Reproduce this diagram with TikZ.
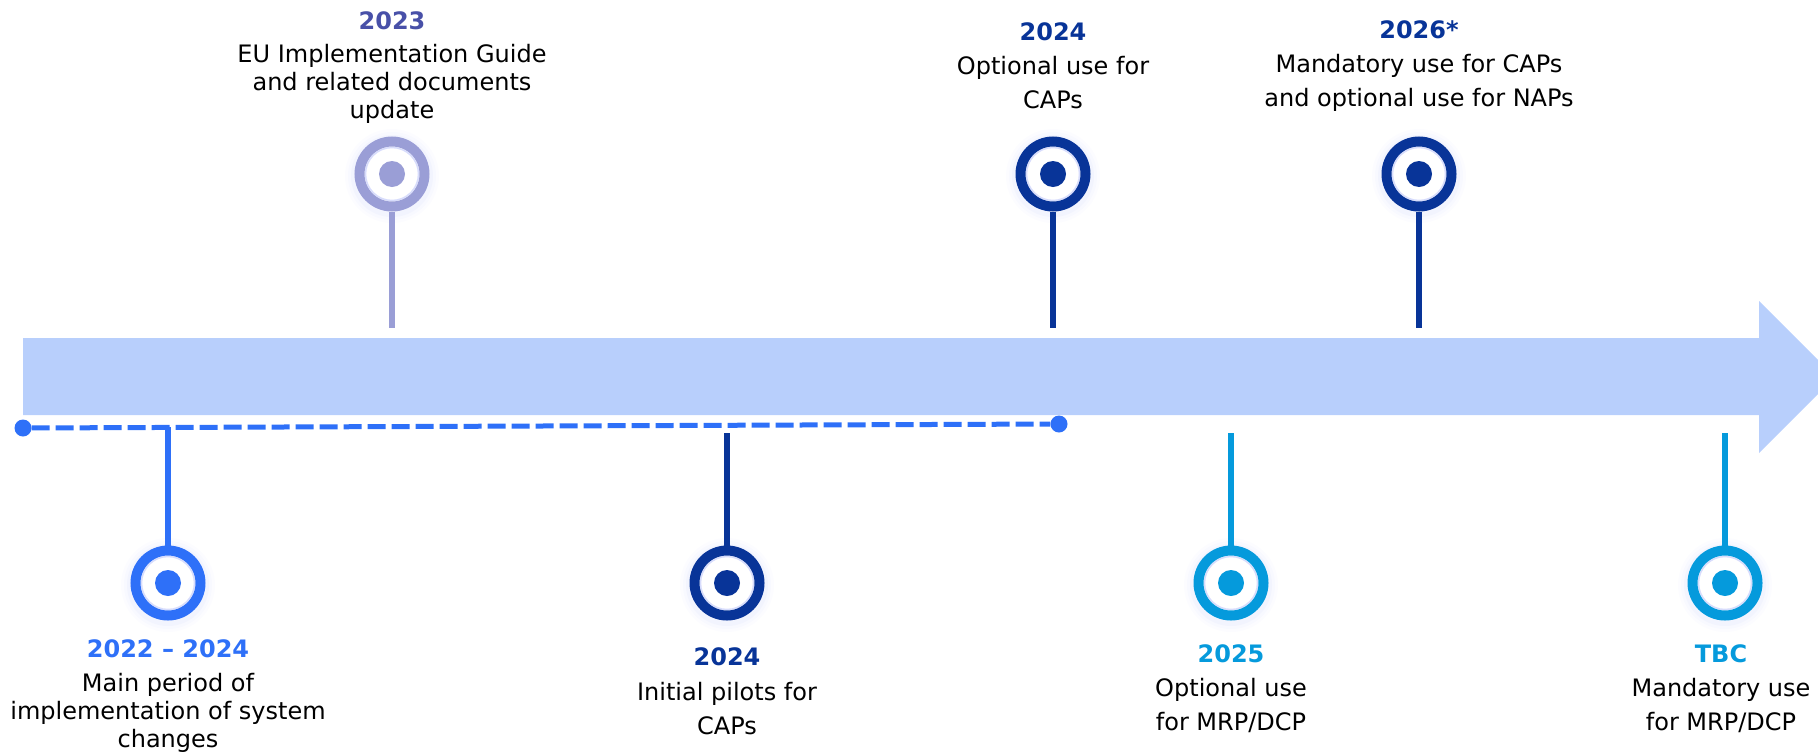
\documentclass[tikz,border=0pt]{standalone}
\usepackage{fontspec}
\setmainfont{DejaVu Sans}
\definecolor{cbright}{RGB}{46,112,248}
\definecolor{clav}{RGB}{154,158,214}
\definecolor{clavtext}{RGB}{72,80,168}
\definecolor{cnavy}{RGB}{8,52,152}
\definecolor{ccyan}{RGB}{5,154,220}
\definecolor{cbar}{RGB}{184,207,252}
\definecolor{cglow}{RGB}{176,186,250}
\newcommand\yr[2]{{\bfseries\color{#1}\rule{0pt}{24pt}#2}}
\newcommand\glowat[2]{\foreach \r/\o in {47/0.04,44/0.06,41/0.08}{\fill[cglow,opacity=\o] (#1,#2+2) circle (\r pt);}}
\begin{document}
\begin{tikzpicture}[x=1pt,y=-1pt,
  marker/.style={circle, draw=#1, fill=white, line width=10pt, minimum size=65pt, inner sep=0pt,
    path picture={\draw[cglow, line width=1.5pt, opacity=0.5] (path picture bounding box.center) circle (26.5pt);
                  \fill[#1] (path picture bounding box.center) circle (13pt);}},
  stem/.style={draw=#1, line width=6pt},
  enddot/.style={circle, fill=cbright, minimum size=17pt, inner sep=0pt},
  dashline/.style={draw=cbright, line width=5pt, dash pattern=on 18pt off 6pt},
  lbl/.style={anchor=north, align=center, inner sep=0pt, text=black},
  two/.style={lbl, font=\fontsize{24}{34}\selectfont},
  three/.style={lbl, font=\fontsize{24}{28}\selectfont}
]
\useasboundingbox (0,0) rectangle (1818,753);
\clip (0,0) rectangle (1818,753);
% timeline arrow
\fill[cbar] (23,338) -- (1759,338) -- (1759,301) -- (1835,377) -- (1759,453) -- (1759,415) -- (23,415) -- cycle;
% dashed period line
\node[enddot] (ds) at (23,428) {};
\node[enddot] (de) at (1059,424) {};
\draw[dashline] (ds) -- (de);
% glows
\glowat{168}{583}
\glowat{392}{174}
\glowat{727}{583}
\glowat{1053}{174}
\glowat{1231}{583}
\glowat{1419}{174}
\glowat{1725}{583}
% markers
\node[marker=cbright] (m1) at (168,583) {};
\node[marker=clav] (m2) at (392,174) {};
\node[marker=cnavy] (m3) at (727,583) {};
\node[marker=cnavy] (m4) at (1053,174) {};
\node[marker=ccyan] (m5) at (1231,583) {};
\node[marker=cnavy] (m6) at (1419,174) {};
\node[marker=ccyan] (m7) at (1725,583) {};
% stem end points
\coordinate (j1) at (168,427);
\coordinate (t2) at (392,328);
\coordinate (b3) at (727,433);
\coordinate (t4) at (1053,328);
\coordinate (b5) at (1231,433);
\coordinate (t6) at (1419,328);
\coordinate (b7) at (1725,433);
\draw[stem=cbright] (j1) -- (m1);
\draw[stem=clav] (m2) -- (t2);
\draw[stem=cnavy] (b3) -- (m3);
\draw[stem=cnavy] (m4) -- (t4);
\draw[stem=ccyan] (b5) -- (m5);
\draw[stem=cnavy] (m6) -- (t6);
\draw[stem=ccyan] (b7) -- (m7);
% labels
\node[three] (l2) at (392,5) {\yr{clavtext}{2023}\\[5pt]EU Implementation Guide\\and related documents\\update};
\node[two] (l4) at (1053,16) {\yr{cnavy}{2024}\\Optional use for\\CAPs};
\node[two] (l6) at (1419,14) {\yr{cnavy}{2026*}\\Mandatory use for CAPs\\and optional use for NAPs};
\node[three] (l1) at (168,633) {\yr{cbright}{2022 – 2024}\\[6pt]Main period of\\implementation of system\\changes};
\node[two] (l3) at (727,641) {\yr{cnavy}{2024}\\[1pt]Initial pilots for\\CAPs};
\node[two] (l5) at (1231,638) {\yr{ccyan}{2025}\\Optional use\\for MRP/DCP};
\node[two] (l7) at (1721,638) {\yr{ccyan}{TBC}\\Mandatory use\\for MRP/DCP};
\end{tikzpicture}
\end{document}
